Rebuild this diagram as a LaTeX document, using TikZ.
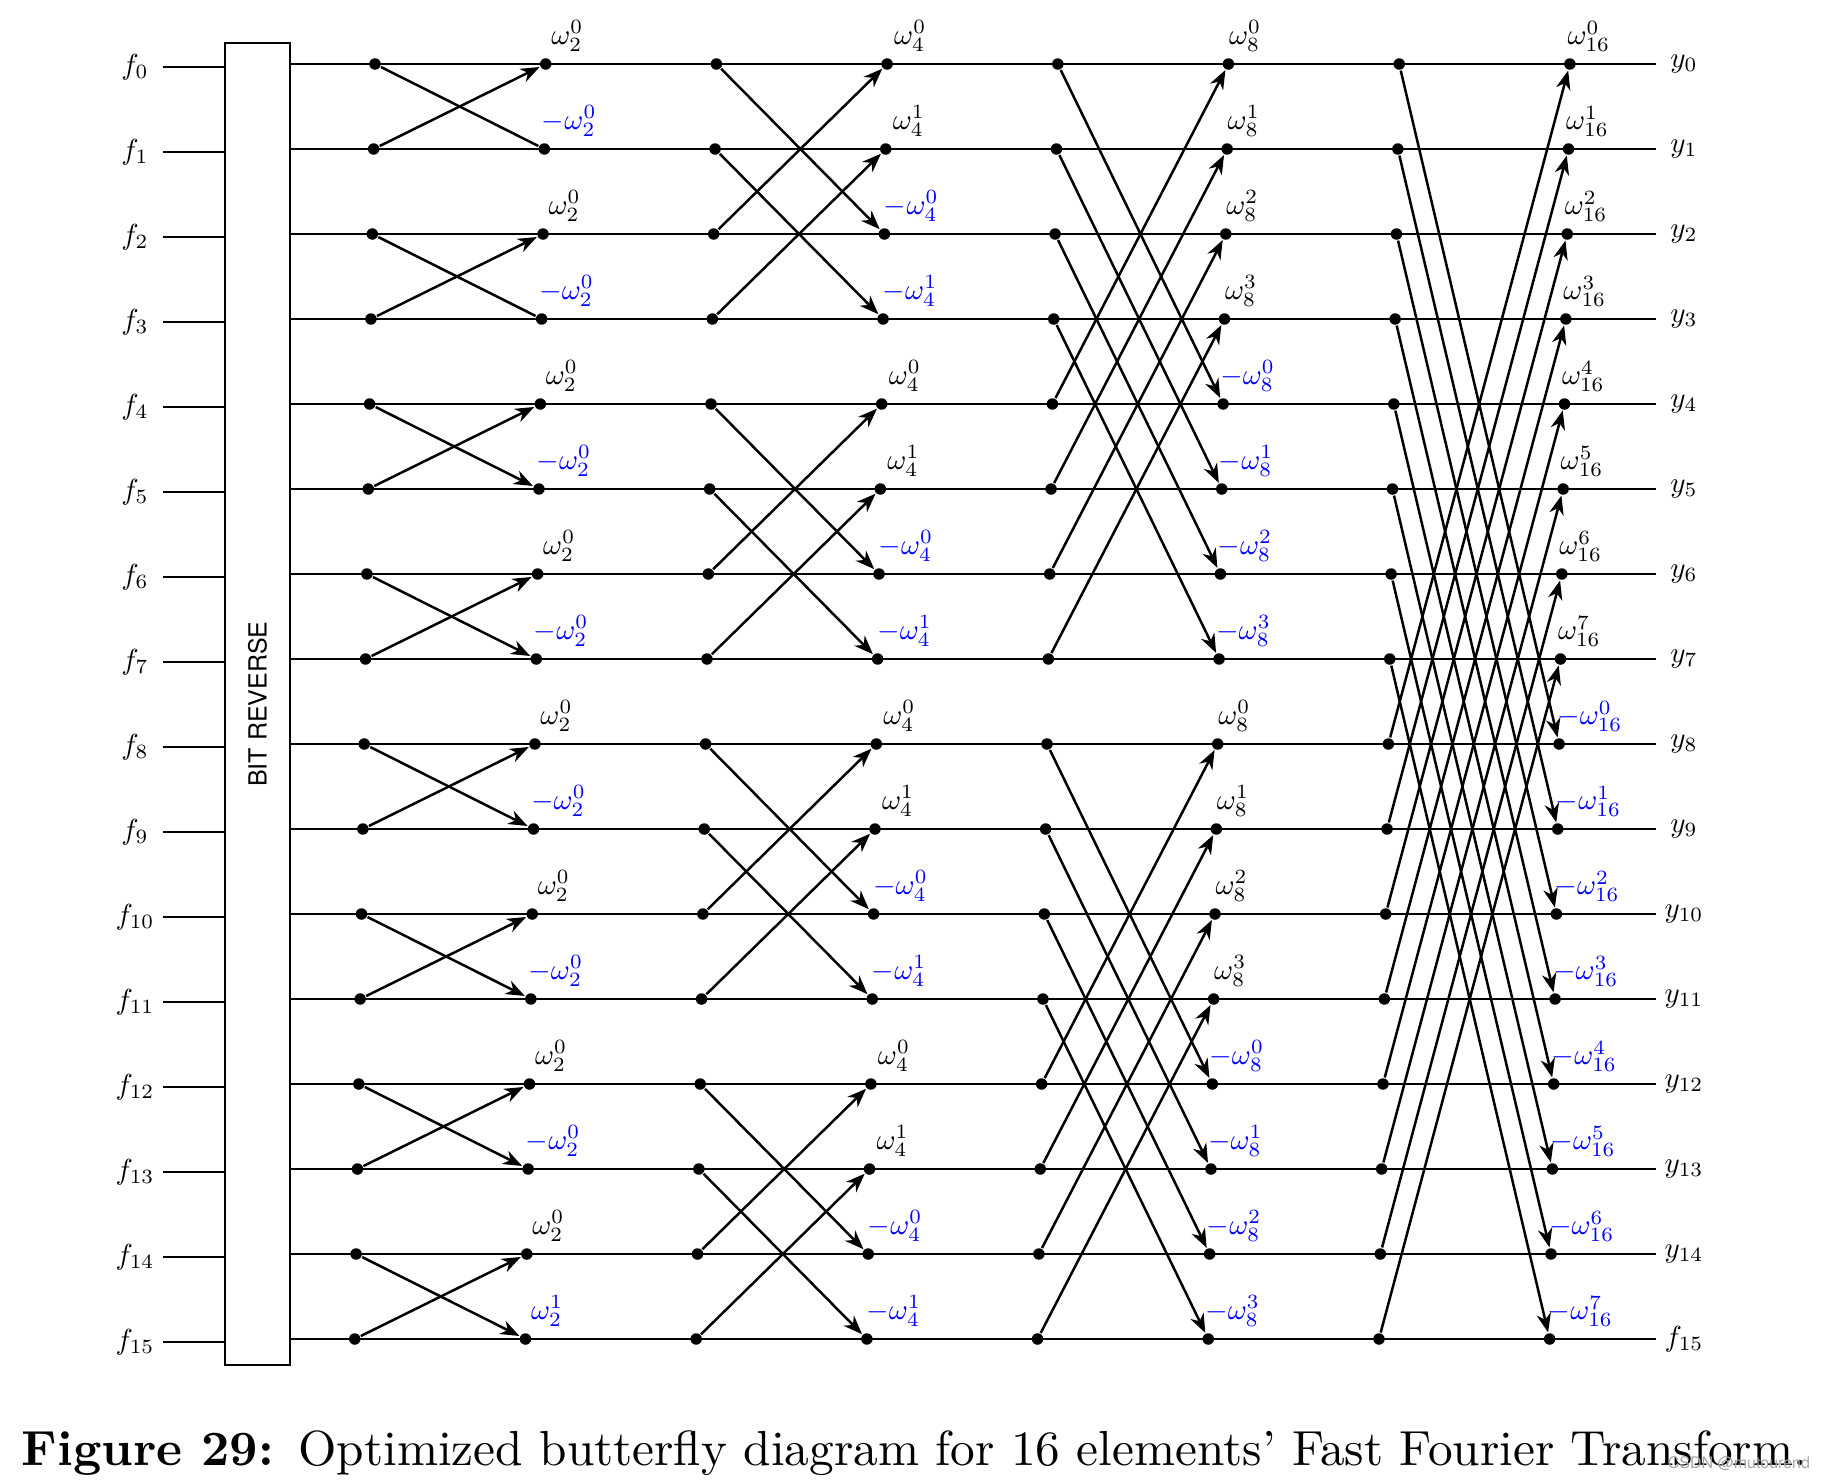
\documentclass[tikz,border=0pt]{standalone}
\usepackage{fontspec}
\setsansfont{TeX Gyre Heros}
\usetikzlibrary{arrows.meta,positioning}

\tikzset{
  dot/.style={circle,fill,inner sep=0pt,minimum size=2.3pt},
  wire/.style={line width=0.5pt},
  fly/.style={line width=0.5pt,-{Stealth[length=3.8pt,width=2.9pt,inset=1.2pt]}},
  wlbl/.style={anchor=south west,inner sep=0pt,font=\fontsize{10}{12}\selectfont,scale=0.58,transform shape},
  nlbl/.style={wlbl,text=blue},
  iolbl/.style={inner sep=0pt,font=\fontsize{10}{12}\selectfont,scale=0.58,transform shape},
}

\begin{document}
\begin{tikzpicture}[x=0.2pt,y=-0.2pt]
\useasboundingbox (0,0) rectangle (1826,1480);

% bit reverse box
\node[draw,wire,minimum width=13pt,minimum height=264.4pt,inner sep=0pt] (rev) at (257.5,704) {};
\node[rotate=90,font=\sffamily\fontsize{5}{6}\selectfont] (revtxt) at (rev.center) {BIT REVERSE};

% rows, points, inputs and outputs
\foreach \k in {0,...,15}{
  \pgfmathsetmacro\yk{64+85*\k}
  \coordinate (s-\k) at (163,\yk+3);
  \coordinate (l-\k) at (290,\yk);
  \coordinate (r-\k) at (1656,\yk);
  \node[iolbl] (f-\k) at (135,\yk+3) {$f_{\k}$};
  \draw[wire] (s-\k) -- (s-\k -| rev.west);
  \draw[wire] (l-\k) -- (r-\k);
  \foreach \j in {1,...,8}{
    \pgfmathsetmacro\xj{375+170.7*(\j-1)-1.35*\k}
    \node[dot] (p-\j-\k) at (\xj,\yk) {};
  }
}
\foreach \k in {0,...,14}
  \node[iolbl] (y-\k) at (1684,64+85*\k) {$y_{\k}$};
\node[iolbl] (y-15) at (1684,1339) {$f_{15}$};

% stage 1
\foreach \a in {0,2,...,14}{
  \pgfmathtruncatemacro\b{\a+1}
  \draw[fly] (p-1-\b) -- (p-2-\a);
  \ifnum\a<4 \draw[wire] (p-1-\a) -- (p-2-\b); \else \draw[fly] (p-1-\a) -- (p-2-\b); \fi
}
% stage 2
\foreach \a in {0,1,4,5,8,9,12,13}{
  \pgfmathtruncatemacro\b{\a+2}
  \draw[fly] (p-3-\a) -- (p-4-\b);
  \draw[fly] (p-3-\b) -- (p-4-\a);
}
% stage 3
\foreach \a in {0,1,2,3,8,9,10,11}{
  \pgfmathtruncatemacro\b{\a+4}
  \draw[fly] (p-5-\a) -- (p-6-\b);
  \draw[fly] (p-5-\b) -- (p-6-\a);
}
% stage 4
\foreach \a in {0,...,7}{
  \pgfmathtruncatemacro\b{\a+8}
  \draw[fly] (p-7-\a) -- (p-8-\b);
  \draw[fly] (p-7-\b) -- (p-8-\a);
}

% twiddle factors
\foreach \k in {0,2,...,14}
  \node[wlbl] (w-2-\k) at ([xshift=1pt,yshift=2.4pt]p-2-\k.center) {$\omega_2^0$};
\foreach \k in {1,3,...,13}
  \node[nlbl] (w-2-\k) at ([xshift=-0.6pt,yshift=2.4pt]p-2-\k.center) {$-\omega_2^0$};
\node[nlbl] (w-2-15) at ([xshift=1pt,yshift=2.4pt]p-2-15.center) {$\omega_2^1$};
\foreach \k in {0,...,15}{
  \pgfmathtruncatemacro\r{mod(\k,4)}
  \pgfmathtruncatemacro\e{mod(\k,2)}
  \ifnum\r<2
    \node[wlbl] (w-4-\k) at ([xshift=1.3pt,yshift=2.4pt]p-4-\k.center) {$\omega_4^{\e}$};
  \else
    \node[nlbl] (w-4-\k) at ([xshift=-0.2pt,yshift=2.4pt]p-4-\k.center) {$-\omega_4^{\e}$};
  \fi
}
\foreach \k in {0,...,15}{
  \pgfmathtruncatemacro\r{mod(\k,8)}
  \pgfmathtruncatemacro\e{mod(\k,4)}
  \ifnum\r<4
    \node[wlbl] (w-6-\k) at ([xshift=0pt,yshift=2.4pt]p-6-\k.center) {$\omega_8^{\e}$};
  \else
    \node[nlbl] (w-6-\k) at ([xshift=-0.7pt,yshift=2.4pt]p-6-\k.center) {$-\omega_8^{\e}$};
  \fi
}
\foreach \k in {0,...,15}{
  \pgfmathtruncatemacro\e{mod(\k,8)}
  \ifnum\k<8
    \node[wlbl] (w-8-\k) at ([xshift=-0.6pt,yshift=2.3pt]p-8-\k.center) {$\omega_{16}^{\e}$};
  \else
    \node[nlbl] (w-8-\k) at ([xshift=-0.5pt,yshift=2.3pt]p-8-\k.center) {$-\omega_{16}^{\e}$};
  \fi
}

% caption
\node[anchor=base west,inner sep=0pt,font=\fontsize{10}{12}\selectfont,scale=0.986,transform shape] (cap) at (21,1465)
  {\textbf{Figure 29:}\enspace Optimized butterfly diagram for 16 elements' Fast Fourier Transform.};
\node[anchor=base east,inner sep=0pt,text=gray!70,font=\sffamily\fontsize{3.2}{4}\selectfont] (wm) at (1811,1468) {CSDN @mutourend};
\end{tikzpicture}
\end{document}
